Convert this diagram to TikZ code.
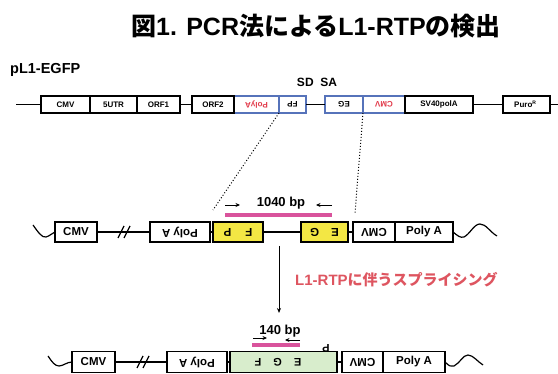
\documentclass[tikz,border=0pt]{standalone}
\usepackage{fontspec}
\setmainfont{Liberation Sans}
\newfontfamily\jp{Noto Sans CJK JP}
\usetikzlibrary{arrows.meta}
\definecolor{myblue}{HTML}{5673BA}
\definecolor{myred}{HTML}{E23A4A}
\definecolor{jpred}{HTML}{DE5560}
\definecolor{myyellow}{HTML}{F3E744}
\definecolor{mygreen}{HTML}{D8EDCC}
\definecolor{mypink}{HTML}{D9539C}
\newcommand{\rot}[1]{\rotatebox{180}{#1}}
\tikzset{
  bx/.style={draw=black, line width=1.3pt, minimum height=17pt, inner sep=0pt, outer sep=0pt,
    font=\bfseries\fontsize{8}{9}\selectfont},
  bbx/.style={bx, draw=myblue, line width=1.1pt},
  mbx/.style={draw=black, line width=1.2pt, minimum height=20pt, inner sep=0pt, outer sep=0pt,
    font=\bfseries\fontsize{11.5}{12}\selectfont},
  lbx/.style={mbx, minimum height=21pt},
  wire/.style={line width=1.2pt},
  dots/.style={dotted, line width=1pt},
  primer/.style={line width=0.9pt, -{Stealth[length=4.5pt,width=4pt]}},
  pbar/.style={draw=mypink, line width=3.5pt},
  lbl/.style={font=\bfseries\fontsize{13}{14}\selectfont, inner sep=0pt},
}
\begin{document}
\begin{tikzpicture}[x=1pt,y=-1pt]
\useasboundingbox (0,0) rectangle (558,374);
\fill[white] (0,0) rectangle (558,374);

% title
\node[font=\bfseries\fontsize{25}{27}\selectfont, inner sep=0pt] (title) at (316,26) {{\jp 図}1. PCR{\jp 法による}L1-RTP{\jp の検出}};
\node[font=\bfseries\fontsize{14.5}{15}\selectfont, anchor=west, inner sep=0pt] (plasmid) at (10,70) {pL1-EGFP};
\node[font=\bfseries\fontsize{12}{13}\selectfont, inner sep=0pt] (sdsa) at (317,82) {SD\ \ SA};

% top row
\coordinate (tstart) at (16,104.5);
\coordinate (tend) at (558,104.5);
\node[bbx, minimum width=45pt, text=myred] (pa1) at (256.5,104.5) {\rot{PolyA}};
\node[bbx, minimum width=27pt] (fp1) at (292.5,104.5) {\rot{FP}};
\node[bbx, minimum width=38pt] (eg1) at (344,104.5) {\rot{EG}};
\node[bbx, minimum width=42pt, text=myred] (cm1) at (384,104.5) {\rot{CMV}};
\node[bx, minimum width=49pt] (c1) at (65.5,104.5) {CMV};
\node[bx, minimum width=47pt] (u1) at (113.5,104.5) {5UTR};
\node[bx, minimum width=43pt] (o1) at (158.5,104.5) {ORF1};
\node[bx, minimum width=42pt] (o2) at (213,104.5) {ORF2};
\node[bx, minimum width=68pt] (sv) at (439,104.5) {SV40polA};
\node[bx, minimum width=47pt] (puro) at (526.5,104.5) {Puro\textsuperscript{\tiny R}\ \ };
\draw[wire] (tstart) -- (c1.west);
\draw[wire] (o1.east) -- (o2.west);
\draw[wire] (fp1.east) -- (eg1.west);
\draw[wire] (sv.east) -- (puro.west);
\draw[wire] (puro.east) -- (tend);

% middle row
\node[mbx, minimum width=42pt] (cmv2) at (76,232) {CMV};
\node[mbx, minimum width=60pt] (pa2) at (180,232) {\rot{Poly A}};
\node[mbx, minimum width=50pt, fill=myyellow] (fp2) at (238,232) {\rot{F\hspace{14pt}P}};
\node[mbx, minimum width=47pt, fill=myyellow] (eg2) at (324.5,232) {\rot{E\hspace{12pt}G}};
\node[mbx, minimum width=42pt] (cmv3) at (374,232) {\rot{CMV}};
\node[mbx, minimum width=58pt] (pb2) at (424,232) {Poly A};
\draw[wire] (cmv2.east) -- (pa2.west);
\draw[wire] (pa2.east) -- (fp2.west);
\draw[wire] (fp2.east) -- (eg2.west);
\draw[wire] (eg2.east) -- (cmv3.west);
\draw[wire] (118,238) -- (124,226);
\draw[wire] (124,238) -- (130,226);
\draw[wire] (33,225) .. controls (38,232) and (42,238) .. (46,237) .. controls (50,236) and (52,233) .. (cmv2.west);
\draw[wire] (pb2.east) .. controls (458,236) and (460,238) .. (464,237) .. controls (470,234) and (474,224) .. (480,224) .. controls (486,224) and (490,232) .. (497,236);

% dotted projections
\coordinate (dl) at (213,210);
\coordinate (dr) at (355,213);
\draw[dots] (fp1.south west) -- (dl);
\draw[dots] (eg1.south east) -- (dr);

% 1040 bp
\coordinate (b1a) at (225,215);
\coordinate (b1b) at (332,215);
\draw[pbar] (b1a) -- (b1b);
\node[lbl] (l1040) at (281,203) {1040 bp};
\coordinate (p1a) at (225,205);
\coordinate (p1b) at (240,205);
\coordinate (p2a) at (332,205);
\coordinate (p2b) at (316,205);
\draw[primer] (p1a) -- (p1b);
\draw[primer] (p2a) -- (p2b);

% splicing arrow
\coordinate (va) at (279,246);
\coordinate (vb) at (279,313);
\draw[line width=0.9pt, -{Stealth[length=5pt,width=4pt]}] (va) -- (vb);
\node[anchor=west, text=jpred, font=\bfseries\fontsize{15}{16}\selectfont, inner sep=0pt] (splice) at (295,280) {L1-RTP{\jp に伴うスプライシング}};

% bottom row
\node[lbx, minimum width=43pt] (cmv4) at (93.5,362) {CMV};
\node[lbx, minimum width=60pt] (pa4) at (197,362) {\rot{Poly A}};
\node[lbx, minimum width=107pt, fill=mygreen] (gr) at (283.5,362) {};
\node[font=\bfseries\fontsize{11}{12}\selectfont, inner sep=0pt] (egf) at (278,362) {\rot{E\hspace{12pt}G\hspace{12pt}F}};
\node[font=\bfseries\fontsize{11}{12}\selectfont, inner sep=0pt] (pp) at (326,348) {\rot{P}};
\node[lbx, minimum width=41pt] (cmv5) at (362.5,362) {\rot{CMV}};
\node[lbx, minimum width=62pt] (pb5) at (414,362) {Poly A};
\draw[wire] (cmv4.east) -- (pa4.west);
\draw[wire] (pa4.east) -- (gr.west);
\draw[wire] (gr.east) -- (cmv5.west);
\draw[wire] (137,368) -- (143,356);
\draw[wire] (143,368) -- (149,356);
\draw[wire] (48,356) .. controls (52,362) and (55,366) .. (59,366) .. controls (63,366) and (67,362) .. (cmv4.west);
\draw[wire] (pb5.east) .. controls (449,366) and (451,367) .. (454,366) .. controls (460,363) and (463,355) .. (468,355) .. controls (473,355) and (478,362) .. (483,365);

% 140 bp
\coordinate (b2a) at (252,345);
\coordinate (b2b) at (300,345);
\draw[pbar] (b2a) -- (b2b);
\node[lbl] (l140) at (280,331) {140 bp};
\coordinate (q1a) at (253,338);
\coordinate (q1b) at (267,338);
\coordinate (q2a) at (300,340);
\coordinate (q2b) at (285,340);
\draw[primer] (q1a) -- (q1b);
\draw[primer] (q2a) -- (q2b);
\end{tikzpicture}
\end{document}
